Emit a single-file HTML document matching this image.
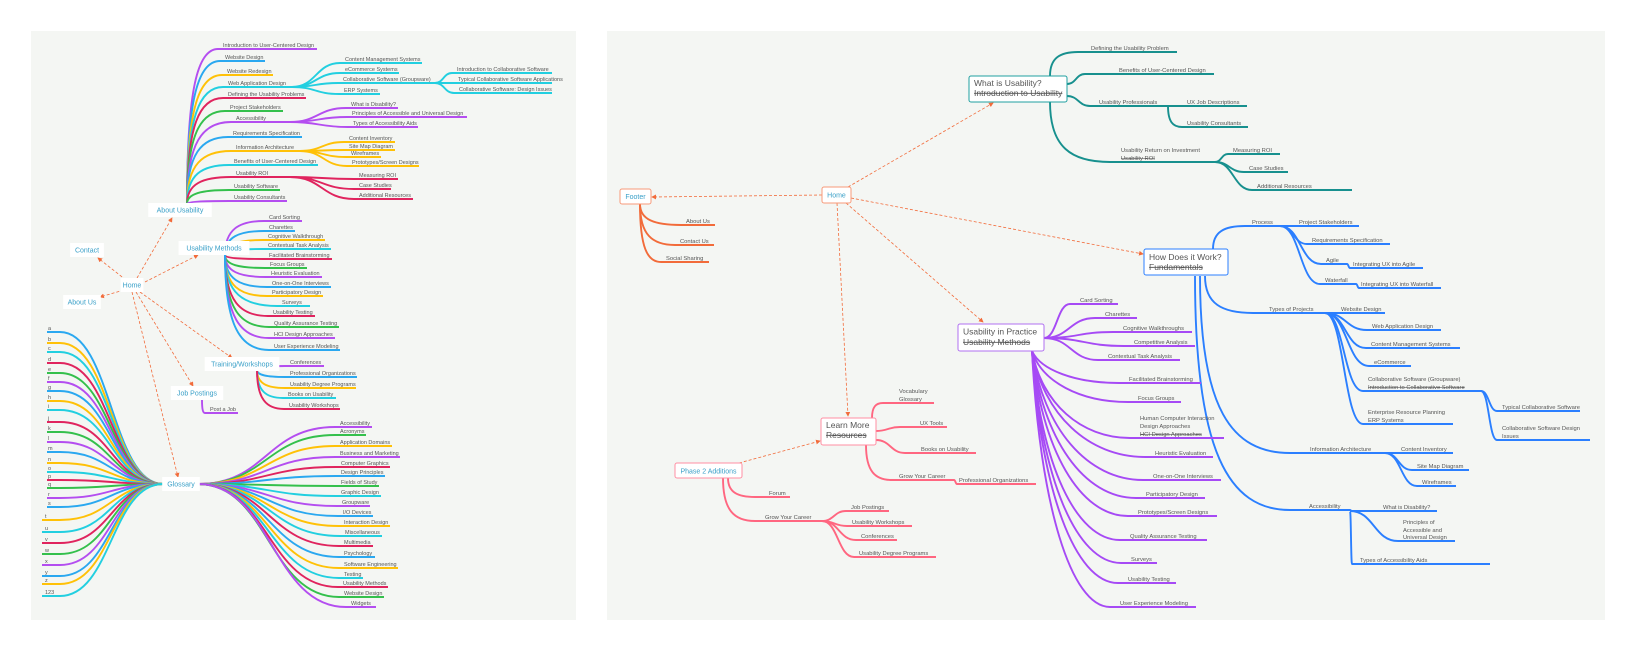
<!DOCTYPE html>
<html><head><meta charset="utf-8"><style>
html,body{margin:0;padding:0;background:#fff;width:1634px;height:650px;overflow:hidden}
svg{display:block;font-family:"Liberation Sans",sans-serif}
</style></head><body>
<svg id="m" width="1634" height="650" viewBox="0 0 1634 650" xmlns="http://www.w3.org/2000/svg"></svg>
<script>
const C={p:'#b44ef0',b:'#2aa8f0',y:'#ffc107',c:'#22cfe0',r:'#e0245e',g:'#34c04c'};
const P='#a64af5',B='#2b7fff',TL='#17908e',O='#f26b3a',K='#ff6680',TX='#555';
let s='<defs><marker id="ah" markerWidth="6" markerHeight="6" refX="5" refY="3" orient="auto"><path d="M0 0L6 3L0 6z" fill="'+O+'"/></marker></defs>';
s+='<rect x="31" y="31" width="545" height="589" fill="#f4f6f3"/><rect x="607" y="31" width="998" height="589" fill="#f4f6f3"/>';
function t(x,y,str,fs,col,anc,st){s+=`<text x="${x}" y="${y}" font-size="${fs||5.5}" fill="${col||TX}" text-anchor="${anc||'start'}"${st?' text-decoration="line-through"':''}>${str}</text>`;}
function br(ox,oy,sx,sy,ex,col,w){const mx=(ox+sx)/2;s+=`<path d="M${ox} ${oy}C${mx} ${oy} ${mx} ${sy} ${sx} ${sy}L${ex} ${sy}" stroke="${col}" stroke-width="${w||1.9}" fill="none"/>`;}
function vb(ox,oy,sx,sy,ex,col,w){s+=`<path d="M${ox} ${oy}C${ox} ${oy+(sy-oy)*0.75} ${ox+(sx-ox)*0.35} ${sy} ${sx} ${sy}L${ex} ${sy}" stroke="${col}" stroke-width="${w||1.9}" fill="none"/>`;}
function sb(ox,oy,sx,sy,ex,col,w){s+=`<path d="M${ox} ${oy}C${ox+(sx-ox)*0.1} ${oy+(sy-oy)*0.6} ${ox+(sx-ox)*0.5} ${sy} ${sx} ${sy}L${ex} ${sy}" stroke="${col}" stroke-width="${w||1.9}" fill="none"/>`;}
function it(ox,oy,arr,f,fs){arr.forEach(a=>{(f||br)(ox,oy,a[0]-5,a[1],a[2],a[4]);t(a[0],a[1]-1.8,a[3],fs);});}
function dash(x1,y1,x2,y2){s+=`<path d="M${x1} ${y1}L${x2} ${y2}" stroke="${O}" stroke-width="0.8" stroke-dasharray="3 2" fill="none" marker-end="url(#ah)"/>`;}
function lbox(cx,cy,str){const w=str.length*3.7+8;s+=`<rect x="${cx-w/2}" y="${cy-7}" width="${w}" height="14" fill="#fff"/>`;t(cx,cy+2.5,str,7,'#3aa0c8','middle');}
function rbox(x,y,w,h,col,lines,fs,tc){s+=`<rect x="${x}" y="${y}" width="${w}" height="${h}" rx="2" fill="#fff" stroke="${col}" stroke-width="1"/>`;lines.forEach(l=>t(x+(l[2]?w/2:5),y+l[0],l[1],fs,tc||TX,l[2]?'middle':'start',l[3]));}

/* ---------- LEFT PANEL ---------- */
dash(126,280,98,258);dash(124,290,100,297);dash(137,278,172,218);dash(145,282,198,255);
dash(140,292,232,358);dash(136,292,193,386);dash(132,292,178,477);
it(187,204,[[223,49,317,'Introduction to User-Centered Design',C.p],[225,61,265,'Website Design',C.b],[227,75,273,'Website Redesign',C.y],
[228,87,292,'Web Application Design',C.c],[228,98,306,'Defining the Usability Problems',C.r],[230,111,283,'Project Stakeholders',C.g],
[236,122,290,'Accessibility',C.p],[233,137,302,'Requirements Specification',C.b],[236,151,300,'Information Architecture',C.y],
[234,165,318,'Benefits of User-Centered Design',C.c],[236,177,290,'Usability ROI',C.r],[234,190,280,'Usability Software',C.g],[234,201,287,'Usability Consultants',C.p]],vb);
it(292,87,[[345,63,422,'Content Management Systems',C.c],[345,73,399,'eCommerce Systems',C.c],[343,83,435,'Collaborative Software (Groupware)',C.c],[344,94,380,'ERP Systems',C.c]]);
it(435,83,[[457,73,552,'Introduction to Collaborative Software',C.c],[458,83,552,'Typical Collaborative Software Applications',C.c],[459,93,552,'Collaborative Software: Design Issues',C.c]]);
it(290,122,[[351,108,398,'What is Disability?',C.p],[352,117,467,'Principles of Accessible and Universal Design',C.p],[353,127,418,'Types of Accessibility Aids',C.p]]);
it(300,151,[[349,142,395,'Content Inventory',C.y],[349,150,395,'Site Map Diagram',C.y],[351,157,381,'Wireframes',C.y],[352,166,419,'Prototypes/Screen Designs',C.y]]);
it(290,177,[[359,179,398,'Measuring ROI',C.r],[359,189,391,'Case Studies',C.r],[359,199,413,'Additional Resources',C.r]]);
it(225,255,[[269,221,302,'Card Sorting',C.p],[269,231,295,'Charettes',C.b],[268,240,325,'Cognitive Walkthrough',C.y],[268,249,331,'Contextual Task Analysis',C.c],
[269,259,332,'Facilitated Brainstorming',C.r],[270,268,307,'Focus Groups',C.g],[271,277,322,'Heuristic Evaluation',C.p],[272,287,331,'One-on-One Interviews',C.b],
[272,296,323,'Participatory Design',C.y],[282,306,310,'Surveys',C.c],[273,316,315,'Usability Testing',C.r],[274,327,339,'Quality Assurance Testing',C.g],
[274,338,335,'HCI Design Approaches',C.p],[274,350,340,'User Experience Modeling',C.b]],vb);
it(257,370,[[290,366,324,'Conferences',C.p],[290,377,357,'Professional Organizations',C.b],[290,388,356,'Usability Degree Programs',C.y],[288,398,336,'Books on Usability',C.c],[289,409,340,'Usability Workshops',C.r]],vb);
it(202,400,[[210,413,238,'Post a Job',C.p]],vb);
const L='a b c d e f g h i j k l m n o p q r s t u v w x y z 123'.split(' ');
const LY=[328,339,348,359,369,378,387,397,406,418,428,438,448,459,468,476,484,494,503,516,528,539,550,561,572,580,592];
const LC=[C.b,C.y,C.c,C.r,C.g,C.p];
L.forEach((l,i)=>{const uy=LY[i]+4,col=LC[i%6];const ex=i<19?47:42;br(163,484,60,uy,ex,col);t(i<19?48:45,uy-1.8,l);});
it(198,484,[[340,427,372,'Accessibility',C.p],[340,435,366,'Acronyms',C.g],[340,446,392,'Application Domains',C.y],[340,457,400,'Business and Marketing',C.p],
[341,467,390,'Computer Graphics',C.r],[341,476,385,'Design Principles',C.b],[341,486,379,'Fields of Study',C.g],[341,496,381,'Graphic Design',C.c],
[342,506,370,'Groupware',C.p],[343,516,373,'I/O Devices',C.b],[344,526,390,'Interaction Design',C.y],[345,536,382,'Miscellaneous',C.c],
[344,546,373,'Multimedia',C.r],[344,557,375,'Psychology',C.b],[344,568,398,'Software Engineering',C.y],[344,578,363,'Testing',C.c],
[343,587,388,'Usability Methods',C.r],[344,597,384,'Website Design',C.g],[351,607,376,'Widgets',C.p]]);
lbox(87,250,'Contact');lbox(82,302,'About Us');lbox(132,285,'Home');lbox(180,210,'About Usability');lbox(214,248,'Usability Methods');
lbox(242,364,'Training/Workshops');lbox(197,393,'Job Postings');lbox(181,484,'Glossary');

/* ---------- RIGHT PANEL ---------- */
dash(822,195,652,197);dash(848,187,993,103);dash(851,198,1143,254);dash(846,203,983,322);dash(837,203,848,416);dash(739,463,820,441);
vb(1050,76,1078,52,1177,TL);t(1091,50,'Defining the Usability Problem',5.8);
br(1067,84,1085,74,1214,TL);t(1119,72,'Benefits of User-Centered Design',5.8);
br(1067,96,1090,106,1168,TL);t(1099,104,'Usability Professionals',5.8);
br(1168,106,1180,106,1247,TL);t(1187,104,'UX Job Descriptions',5.8);
vb(1168,106,1182,127,1248,TL);t(1187,125,'Usability Consultants',5.8);
vb(1050,102,1110,162,1215,TL);t(1121,152,'Usability Return on Investment',5.8);t(1121,160,'Usability ROI',5.8,TX,0,1);
it(1215,162,[[1233,154,1280,'Measuring ROI',TL],[1249,172,1288,'Case Studies',TL],[1257,190,1352,'Additional Resources',TL]],0,5.8);
rbox(969,76,98,26,'#20a0a0',[[10,'What is Usability?'],[20,'Introduction to Usability',0,1]],8.5);
it(640,204,[[686,225,715,'About Us',O],[680,245,714,'Contact Us',O],[666,262,709,'Social Sharing',O]],vb,5.8);
rbox(620,189,31,15,'#f79a7a',[[10,'Footer',1]],7,'#3aa0c8');
rbox(822,187,29,16,'#f79a7a',[[10.5,'Home',1]],7,'#3aa0c8');
vb(1213,249,1245,226,1280,B);t(1252,224,'Process',5.8);
it(1280,226,[[1299,226,1359,'Project Stakeholders',B],[1312,244,1390,'Requirements Specification',B],[1326,264,1347,'Agile',B],[1325,284,1356,'Waterfall',B]],0,5.8);
br(1347,264,1350,268,1423,B);t(1353,266,'Integrating UX into Agile',5.8);
br(1356,284,1359,288,1441,B);t(1361,286,'Integrating UX into Waterfall',5.8);
vb(1205,276,1253,313,1325,B);t(1269,311,'Types of Projects',5.8);
it(1325,313,[[1341,313,1385,'Website Design',B],[1372,330,1441,'Web Application Design',B],[1371,348,1460,'Content Management Systems',B],[1374,366,1411,'eCommerce',B]],0,5.8);
br(1325,313,1363,391,1481,B);t(1368,381,'Collaborative Software (Groupware)',5.8);t(1368,389,'Introduction to Collaborative Software',5.8,TX,0,1);
br(1325,313,1363,424,1453,B);t(1368,414,'Enterprise Resource Planning',5.8);t(1368,422,'ERP Systems',5.8);
br(1481,391,1497,411,1580,B);t(1502,409,'Typical Collaborative Software',5.8);
br(1481,391,1497,440,1590,B);t(1502,430,'Collaborative Software Design',5.8);t(1502,438,'Issues',5.8);
vb(1200,276,1290,453,1385,B);t(1310,451,'Information Architecture',5.8);
it(1385,453,[[1401,453,1453,'Content Inventory',B],[1417,470,1469,'Site Map Diagram',B],[1422,486,1456,'Wireframes',B]],0,5.8);
vb(1195,276,1290,510,1350,B);t(1309,508,'Accessibility',5.8);
br(1350,510,1352,511,1437,B);t(1383,509,'What is Disability?',5.8);
br(1350,511,1398,541,1455,B);t(1403,524,'Principles of',5.8);t(1403,532,'Accessible and',5.8);t(1403,539,'Universal Design',5.8);
br(1350,511,1352,564,1490,B);t(1360,562,'Types of Accessibility Aids',5.8);
rbox(1144,249,84,26,'#2b7fff',[[11,'How Does it Work?'],[21,'Fundamentals',0,1]],8.5);
const PU=[[1080,304,1118,'Card Sorting'],[1105,318,1137,'Charettes'],[1123,332,1192,'Cognitive Walkthroughs'],[1134,346,1195,'Competitive Analysis'],
[1108,360,1180,'Contextual Task Analysis'],[1129,383,1201,'Facilitated Brainstorming'],[1138,402,1181,'Focus Groups'],[1140,438,1224,''],
[1155,457,1213,'Heuristic Evaluation'],[1153,480,1221,'One-on-One Interviews'],[1146,498,1205,'Participatory Design'],[1138,516,1217,'Prototypes/Screen Designs'],
[1130,540,1207,'Quality Assurance Testing'],[1131,563,1157,'Surveys'],[1128,583,1176,'Usability Testing'],[1120,607,1196,'User Experience Modeling']];
PU.forEach(a=>{const sx=a[0]-10;if(a[1]<=362)br(1044,338,sx,a[1],a[2],P);else sb(1032,351,sx,a[1],a[2],P);if(a[3])t(a[0],a[1]-1.8,a[3],5.8);});
t(1140,420,'Human Computer Interaction',5.8);t(1140,428,'Design Approaches',5.8);t(1140,436,'HCI Design Approaches',5.8,TX,0,1);
rbox(958,324,86,27,'#b070f0',[[10.5,'Usability in Practice'],[21,'Usability Methods',0,1]],8.5);
vb(872,418,883,403,934,K);t(899,393,'Vocabulary',5.8);t(899,401,'Glossary',5.8);
br(876,431,900,427,947,K);t(920,425,'UX Tools',5.8);
br(876,440,905,453,976,K);t(921,451,'Books on Usability',5.8);
vb(866,445,892,480,954,K);t(899,478,'Grow Your Career',5.8);
br(954,480,957,484,1036,K);t(959,482,'Professional Organizations',5.8);
rbox(821,418,55,27,'#ff8fa3',[[10,'Learn More'],[20,'Resources',0,1]],8.5);
vb(728,478,755,497,790,K);t(769,495,'Forum',5.8);
vb(723,478,755,521,822,K);t(765,519,'Grow Your Career',5.8);
it(822,521,[[851,511,889,'Job Postings',K],[852,526,912,'Usability Workshops',K],[861,540,897,'Conferences',K],[859,557,936,'Usability Degree Programs',K]],0,5.8);
rbox(675,463,67,15,'#ff8fa3',[[10.3,'Phase 2 Additions',1]],7,'#3aa0c8');
document.getElementById('m').innerHTML=s;
</script>
</body></html>
